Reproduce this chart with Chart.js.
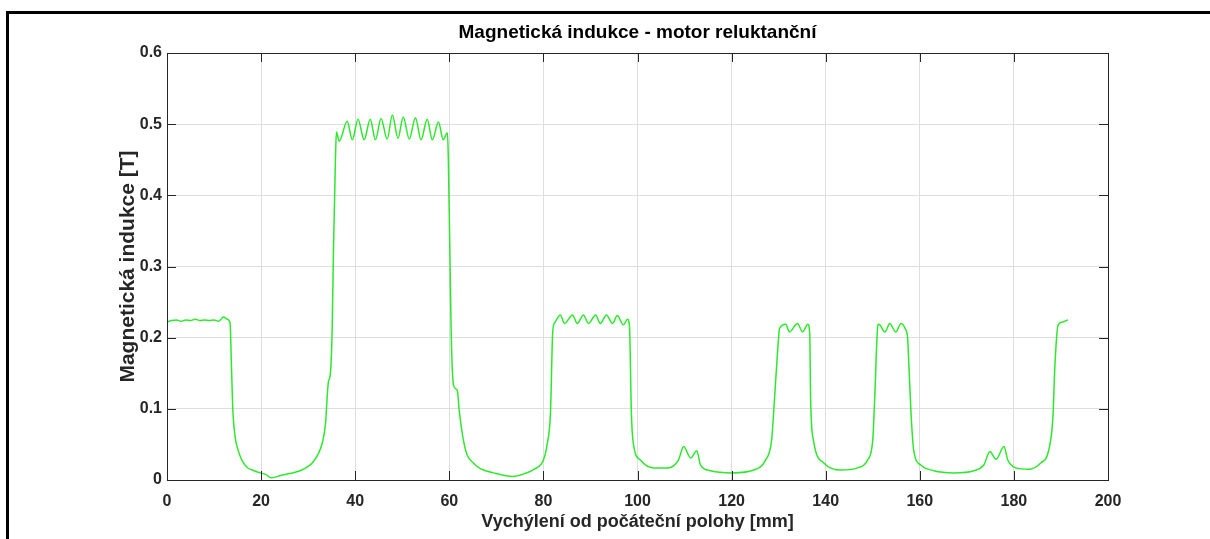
<!DOCTYPE html>
<html>
<head>
<meta charset="utf-8">
<title>Magnetická indukce - motor reluktanční</title>
<script src="https://cdn.jsdelivr.net/npm/chart.js@4.4.1/dist/chart.umd.min.js"></script>
<style>
  html, body { margin: 0; padding: 0; background: #fff; }
  #wrap { position: relative; width: 1210px; height: 539px; overflow: hidden; }
  #frame { position: absolute; left: 6px; top: 11px; width: 1230px; height: 600px;
           border-left: 3px solid #000; border-top: 3px solid #000; }
  #c { position: absolute; left: 0; top: 0; }
</style>
</head>
<body>
<div id="wrap">
  <div id="frame"></div>
  <canvas id="c" width="1210" height="539"></canvas>
</div>
<script>
// position [mm]
const positions = [
  0, 1, 2, 3, 4, 5, 6, 7, 8, 9, 10, 11, 12, 12.8, 13.4, 13.7, 14.0, 14.5, 15.1, 16,
  17, 18.5, 19.8, 21, 22.1, 24, 26, 28.3, 30, 31, 32, 33, 33.7, 34.0, 34.3, 34.7,
  35.1, 35.4, 35.8, 36.0, 36.6, 38.3, 39.4, 40.6, 41.9, 43.2, 44.3, 45.5, 46.8, 47.9,
  49.1, 50.2, 51.5, 52.8, 54.0, 55.3, 56.4, 57.7, 58.7, 59.6, 59.8, 60.1, 60.4, 60.9,
  61.7, 62.1, 63.0, 63.8, 65.1, 66.6, 69.4, 73.5, 76, 78, 80, 80.8, 81.5, 82.0, 82.5,
  83.6, 84.5, 86.2, 87.2, 88.5, 89.6, 91.1, 92.1, 93.4, 94.7, 95.7, 97.0, 97.9, 98.3,
  98.7, 99.1, 100.6, 103.4, 106.4, 108.7, 109.8, 111.3, 112.6, 113.4, 115.5, 120.2,
  124.7, 127.2, 128.5, 129.1, 129.8, 130.2, 131.5, 132.3, 134.0, 135.1, 136.2, 136.6,
  136.8, 137.4, 139.6, 143.2, 146.8, 148.9, 150.0, 150.4, 151.1, 151.3, 152.6, 153.6,
  154.9, 156.0, 157.0, 157.4, 157.7, 158.1, 158.7, 160.2, 163.0, 167.2, 171.5, 173.6,
  174.9, 176.2, 177.9, 178.7, 180.4, 183.0, 185.7, 187.4, 188.3, 188.7, 189.4, 190.4, 191.5
];
// induction [T]
const induction = [
  .222, .224, .225, .223, .225, .224, .226, .224, .225, .224, .225, .223, .229, .226, .221, .16, .098, .06, .042, .027,
  .018, .013, .010, .008, .003, .006, .009, .013, .019, .025, .035, .052, .08, .112, .138, .148,
  .21, .33, .45, .489, .476, .504, .478, .507, .478, .507, .478, .508, .479, .513,
  .480, .510, .479, .509, .478, .507, .478, .503, .478, .488, .45, .33, .207, .133,
  .126, .098, .056, .035, .024, .016, .010, .005, .009, .015, .028, .05, .094, .21, .222,
  .232, .220, .232, .220, .232, .220, .232, .220, .232, .220, .231, .218, .226, .215,
  .094, .052, .028, .017, .017, .028, .047, .031, .041, .021, .013, .010,
  .014, .028, .056, .112, .183, .213, .219, .208, .220, .208, .219, .207,
  .112, .056, .024, .014, .017, .028, .056, .112, .218, .219, .208, .220,
  .208, .220, .211, .200, .159, .098, .042, .021, .013, .010, .013, .021,
  .040, .029, .047, .028, .017, .015, .024, .042, .089, .159, .218, .222, .225
];
const xTicks = [0, 20, 40, 60, 80, 100, 120, 140, 160, 180, 200];
const yTicks = [0, 0.1, 0.2, 0.3, 0.4, 0.5, 0.6];

const FONT = "'Liberation Sans', Arial, Helvetica, sans-serif";
const AXIS = "#262626";

// MATLAB-like box with inward ticks on all four sides
const boxPlugin = {
  id: "box",
  afterDraw(chart) {
    const { ctx, chartArea: a, scales } = chart;
    const len = 9;
    ctx.save();
    ctx.strokeStyle = AXIS;
    ctx.lineWidth = 1;
    ctx.beginPath();
    xTicks.forEach(v => {
      const px = Math.round(scales.x.getPixelForValue(v)) + 0.5;
      ctx.moveTo(px, a.bottom); ctx.lineTo(px, a.bottom - len);
      ctx.moveTo(px, a.top); ctx.lineTo(px, a.top + len);
    });
    yTicks.forEach(v => {
      const py = Math.round(scales.y.getPixelForValue(v)) + 0.5;
      ctx.moveTo(a.left, py); ctx.lineTo(a.left + len, py);
      ctx.moveTo(a.right, py); ctx.lineTo(a.right - len, py);
    });
    ctx.stroke();
    ctx.strokeRect(Math.round(a.left) + 0.5, Math.round(a.top) + 0.5,
                   Math.round(a.right - a.left), Math.round(a.bottom - a.top));
    ctx.restore();
  }
};

new Chart(document.getElementById("c"), {
  type: "scatter",
  data: {
    datasets: [{
      data: positions.map((x, i) => ({ x: x, y: induction[i] })),
      showLine: true,
      borderColor: "#2ee82e",
      borderWidth: 1.5,
      pointRadius: 0,
      cubicInterpolationMode: "monotone",
      fill: false
    }]
  },
  options: {
    responsive: false,
    animation: false,
    layout: { padding: { left: 0, right: 102, top: 0, bottom: 0 } },
    plugins: {
      legend: { display: false },
      tooltip: { enabled: false },
      title: {
        display: true,
        fullSize: false,
        text: "Magnetická indukce - motor reluktanční",
        color: "#000",
        font: { family: FONT, size: 19, weight: "bold" },
        padding: { top: 21.6, bottom: 8.6 }
      }
    },
    scales: {
      x: {
        type: "linear",
        min: 0, max: 200,
        afterBuildTicks: s => { s.ticks = xTicks.map(v => ({ value: v })); },
        afterFit: s => { s.height = 59; },
        ticks: { color: AXIS, font: { family: FONT, size: 16, weight: "bold" }, padding: 12, maxRotation: 0 },
        grid: { color: "#dedede", lineWidth: 1, drawTicks: false },
        border: { display: false },
        title: {
          display: true,
          text: "Vychýlení od počáteční polohy [mm]",
          color: AXIS,
          font: { family: FONT, size: 18, weight: "bold" },
          padding: { top: 0, bottom: 6.2 }
        }
      },
      y: {
        type: "linear",
        min: 0, max: 0.6,
        afterBuildTicks: s => { s.ticks = yTicks.map(v => ({ value: v })); },
        afterFit: s => { s.width = 167; },
        ticks: {
          color: AXIS, font: { family: FONT, size: 16, weight: "bold" }, padding: 5,
          callback: v => String(Math.round(v * 10) / 10)
        },
        grid: { color: "#dedede", lineWidth: 1, drawTicks: false },
        border: { display: false },
        title: {
          display: true,
          text: "Magnetická indukce [T]",
          color: AXIS,
          font: { family: FONT, size: 21, weight: "bold" },
          padding: { top: 115.4, bottom: 0 }
        }
      }
    }
  },
  plugins: [boxPlugin]
});
</script>
</body>
</html>
